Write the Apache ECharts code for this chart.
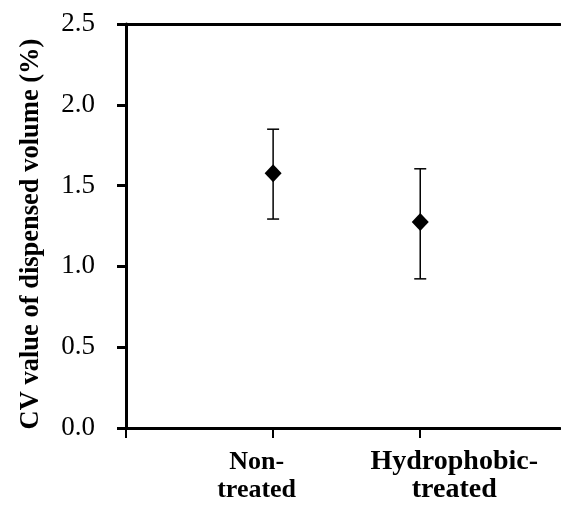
<!DOCTYPE html>
<html><head><meta charset="utf-8">
<script src="https://cdn.jsdelivr.net/npm/echarts@6/dist/echarts.min.js"></script>
<style>html,body{margin:0;padding:0;background:#fff}#c{width:561px;height:505px}</style>
</head><body><div id="c"></div>
<script>
const categories = ["Non-\ntreated", "Hydrophobic-\ntreated"];
const xPositions = [1, 2];
const meanValues = [1.577, 1.274];
const upperValues = [1.849, 1.604];
const lowerValues = [1.293, 0.923];
const yTicks = [0.0, 0.5, 1.0, 1.5, 2.0, 2.5];

const FONT = "'Liberation Serif','Times New Roman',serif";
const chart = echarts.init(document.getElementById('c'));
const pts = xPositions.map((x, i) => [x, meanValues[i]]);
const errs = xPositions.map((x, i) => [x, lowerValues[i], upperValues[i]]);
const catLines = categories.map(c => c.split('\n'));

chart.setOption({
  animation: false,
  grid: { left: 126, top: 24, right: 1, bottom: 77 },
  xAxis: [{
    type: 'value', min: 0, max: 2.95, interval: 1,
    axisLine: { show: true, lineStyle: { color: '#000', width: 3 } },
    axisTick: { show: true, length: 10, lineStyle: { color: '#000', width: 2 } },
    splitLine: { show: false },
    axisLabel: {
      margin: 20,
      showMaxLabel: false,
      formatter: function (v) {
        if (Math.abs(v - 1) < 1e-6) return catLines[0].map(s => '{a|' + s + '}').join('\n');
        if (Math.abs(v - 2) < 1e-6) return catLines[1].map(s => '{b|' + s + '}').join('\n');
        return '';
      },
      rich: {
        a: { fontFamily: FONT, fontWeight: 'bold', fontSize: 26, color: '#000', lineHeight: 28, padding: [0, 33, 0, 0] },
        b: { fontFamily: FONT, fontWeight: 'bold', fontSize: 28, color: '#000', lineHeight: 28, padding: [0, 0, 0, 68] }
      }
    }
  }, {
    type: 'value', min: 0, max: 2.95, position: 'top',
    axisLine: { show: true, lineStyle: { color: '#000', width: 3 } },
    axisTick: { show: false }, axisLabel: { show: false }, splitLine: { show: false }
  }],
  yAxis: {
    type: 'value', min: 0, max: 2.5, interval: 0.5,
    name: 'CV value of dispensed volume (%)',
    nameLocation: 'middle', nameGap: 81,
    nameTextStyle: { fontFamily: FONT, fontWeight: 'bold', fontSize: 26.5, color: '#000', padding: [0, 0, 0, -16] },
    axisLine: { show: true, lineStyle: { color: '#000', width: 3 } },
    axisTick: { show: true, length: 9, lineStyle: { color: '#000', width: 3 } },
    splitLine: { show: false },
    axisLabel: {
      margin: 31, fontFamily: FONT, fontSize: 27, color: '#000',
      formatter: v => { const t = yTicks.find(t => Math.abs(t - v) < 1e-6); return (t === undefined ? v : t).toFixed(1); }
    }
  },
  series: [{
    type: 'custom',
    data: errs,
    renderItem: function (params, api) {
      const x = api.value(0);
      const lo = api.coord([x, api.value(1)]);
      const hi = api.coord([x, api.value(2)]);
      const hw = 6;
      const st = { stroke: '#000', lineWidth: 1.5 };
      return { type: 'group', children: [
        { type: 'line', shape: { x1: lo[0], y1: lo[1], x2: hi[0], y2: hi[1] }, style: st },
        { type: 'line', shape: { x1: lo[0] - hw, y1: lo[1], x2: lo[0] + hw, y2: lo[1] }, style: st },
        { type: 'line', shape: { x1: hi[0] - hw, y1: hi[1], x2: hi[0] + hw, y2: hi[1] }, style: st }
      ]};
    },
    z: 2
  }, {
    type: 'scatter',
    data: pts,
    symbol: 'diamond',
    symbolSize: [17, 18],
    itemStyle: { color: '#000', opacity: 1 },
    z: 3
  }]
});
</script></body></html>
